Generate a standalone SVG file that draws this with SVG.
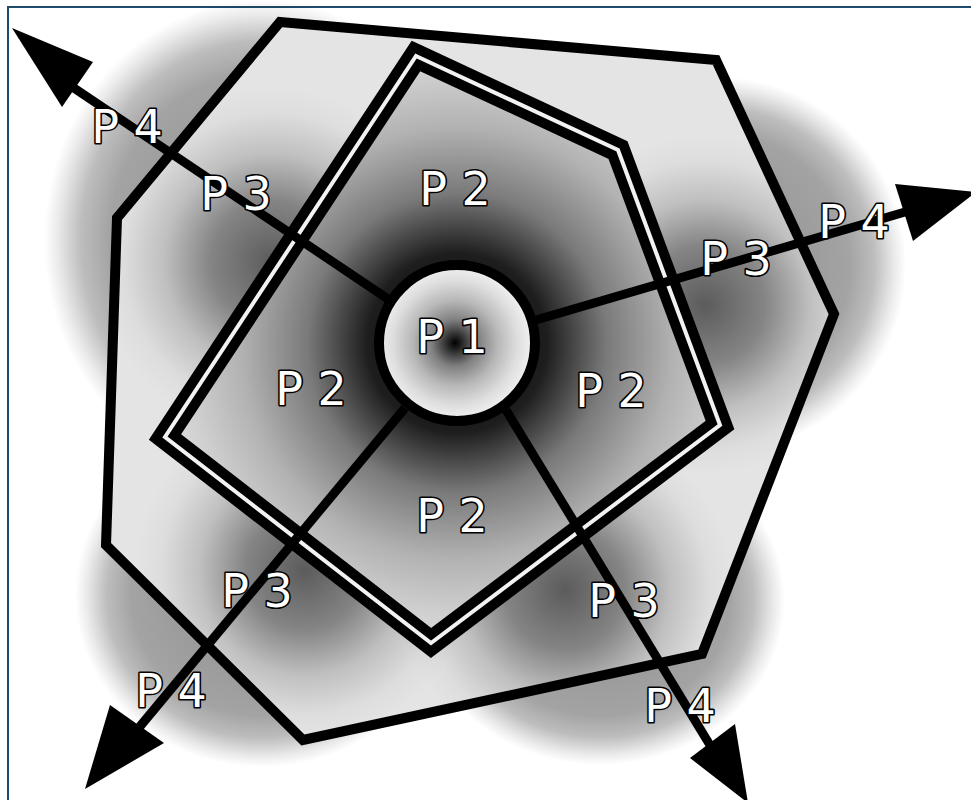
<svg xmlns="http://www.w3.org/2000/svg" width="971" height="800" viewBox="0 0 971 800">
<style>
.lbl{font-family:"DejaVu Sans","Liberation Sans",sans-serif;font-size:46px;fill:#fff;stroke:#000;stroke-width:3.2px;paint-order:stroke;stroke-linejoin:round;text-anchor:middle}
.edge{fill:none;stroke:#000;stroke-width:10;stroke-linejoin:miter}
.shaft{fill:none;stroke:#000;stroke-width:9;stroke-linecap:butt}
.head{fill:#000;stroke:none}
</style>
<defs>
<radialGradient id="blob">
<stop offset="0" stop-color="#000" stop-opacity="0.45"/>
<stop offset="0.7" stop-color="#000" stop-opacity="0.36"/>
<stop offset="0.83" stop-color="#000" stop-opacity="0.26"/>
<stop offset="0.94" stop-color="#000" stop-opacity="0.08"/>
<stop offset="1" stop-color="#000" stop-opacity="0"/>
</radialGradient>
<radialGradient id="lobe">
<stop offset="0" stop-color="#000" stop-opacity="0.6"/>
<stop offset="0.35" stop-color="#000" stop-opacity="0.42"/>
<stop offset="0.62" stop-color="#000" stop-opacity="0.16"/>
<stop offset="0.85" stop-color="#000" stop-opacity="0.03"/>
<stop offset="1" stop-color="#000" stop-opacity="0"/>
</radialGradient>
<radialGradient id="pentFill" gradientUnits="userSpaceOnUse" cx="457" cy="343" r="300">
<stop offset="0" stop-color="#000"/>
<stop offset="0.3" stop-color="#1e1e1e"/>
<stop offset="0.5" stop-color="#7a7a7a"/>
<stop offset="0.72" stop-color="#b2b2b2"/>
<stop offset="0.9" stop-color="#cfcfcf"/>
<stop offset="1" stop-color="#dcdcdc"/>
</radialGradient>
<radialGradient id="coreFill" gradientUnits="userSpaceOnUse" cx="455" cy="343" r="78">
<stop offset="0" stop-color="#000"/>
<stop offset="0.08" stop-color="#222"/>
<stop offset="0.3" stop-color="#808080"/>
<stop offset="0.55" stop-color="#b8b8b8"/>
<stop offset="0.8" stop-color="#dedede"/>
<stop offset="1" stop-color="#f2f2f2"/>
</radialGradient>
<clipPath id="heptClip">
<polygon points="280,22 716,60 834,314 702,654 303,740 106,545 117,218"/>
</clipPath>
</defs>

<rect x="0" y="0" width="971" height="800" fill="#fff"/>
<rect x="8" y="7" width="975" height="805" fill="none" stroke="#1f4a6a" stroke-width="2"/>

<g id="shading">
<ellipse cx="262" cy="240" rx="218" ry="240" fill="url(#blob)"/>
<circle cx="718" cy="265" r="188" fill="url(#blob)"/>
<ellipse cx="262" cy="595" rx="187" ry="172" fill="url(#blob)"/>
<ellipse cx="600" cy="600" rx="185" ry="165" fill="url(#blob)"/>
</g>

<g id="P4-zone">
<polygon points="280,22 716,60 834,314 702,654 303,740 106,545 117,218" fill="#e4e4e4"/>
<g clip-path="url(#heptClip)">
<circle cx="272" cy="262" r="175" fill="url(#lobe)"/>
<circle cx="705" cy="305" r="170" fill="url(#lobe)"/>
<circle cx="305" cy="570" r="170" fill="url(#lobe)"/>
<circle cx="565" cy="590" r="170" fill="url(#lobe)"/>
</g>
<polygon class="edge" points="280,22 716,60 834,314 702,654 303,740 106,545 117,218"/>
</g>

<g id="P2-zone">
<polygon points="416,56 618,150 720,425 431,643 165,437" fill="url(#pentFill)"/>
<polygon points="416,56 618,150 720,425 431,643 165,437" fill="none" stroke="#000" stroke-width="24" stroke-linejoin="miter"/>
<polygon points="416,56 618,150 720,425 431,643 165,437" fill="none" stroke="#f2f2f2" stroke-width="4" stroke-linejoin="miter"/>
</g>

<g id="connectors">
<path class="shaft" d="M388,299 L62,80"/>
<polygon class="head" points="12,28 62,107 93,62"/>
<path class="shaft" d="M536,320 L905,212"/>
<polygon class="head" points="976,192 895,184 913,241"/>
<path class="shaft" d="M405,408 L137,730"/>
<polygon class="head" points="85,789 110,705 164,743"/>
<path class="shaft" d="M506,410 L716,755"/>
<polygon class="head" points="748,803 690,758 735,724"/>
</g>

<g id="P1">
<circle cx="457" cy="343" r="78" fill="url(#coreFill)" stroke="#000" stroke-width="10"/>
<text class="lbl" x="452" y="353">P 1</text>
</g>

<g id="labels">
<text class="lbl" x="455" y="205">P 2</text>
<text class="lbl" x="311" y="405">P 2</text>
<text class="lbl" x="611" y="407">P 2</text>
<text class="lbl" x="452" y="532">P 2</text>
<text class="lbl" x="236" y="210">P 3</text>
<text class="lbl" x="736" y="275">P 3</text>
<text class="lbl" x="257" y="607">P 3</text>
<text class="lbl" x="624" y="617">P 3</text>
<text class="lbl" x="127" y="143">P 4</text>
<text class="lbl" x="854" y="238">P 4</text>
<text class="lbl" x="171" y="707">P 4</text>
<text class="lbl" x="680" y="722">P 4</text>
</g>
</svg>
